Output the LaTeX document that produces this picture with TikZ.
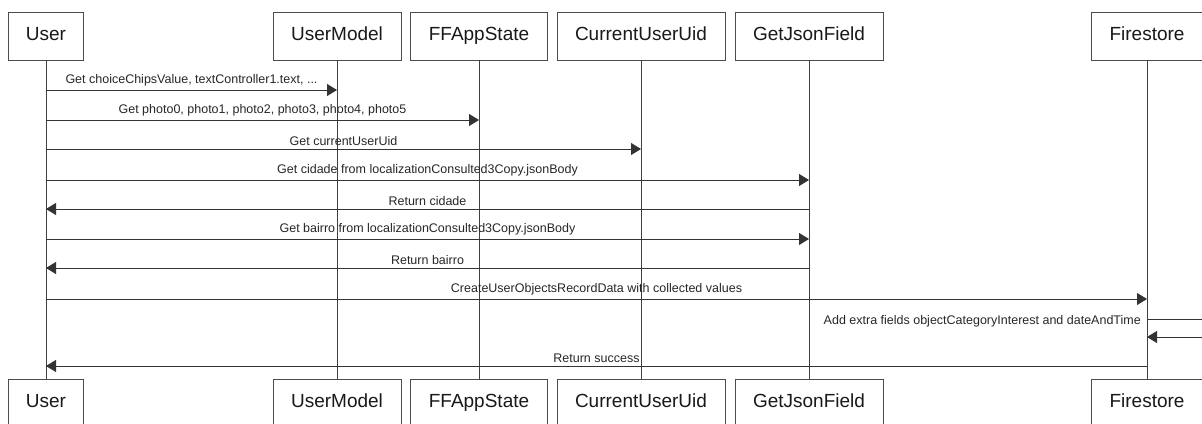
\documentclass[tikz,border=0pt]{standalone}
\usepackage{fontspec}
\setmainfont{Liberation Sans}
\usetikzlibrary{arrows.meta}
\begin{document}
\begin{tikzpicture}[x=1pt,y=-1pt,
  actor/.style={draw=black!70, fill=white, line width=0.8pt, minimum height=48pt, inner sep=0pt, text height=13.5pt, text depth=4pt, text=black!90, font=\fontsize{19}{22}\selectfont},
  life/.style={draw=black!75, line width=0.8pt},
  msg/.style={draw=black!80, line width=0.9pt, -{Triangle[length=10pt,width=12pt]}},
  lbl/.style={font=\fontsize{12.5}{14}\selectfont, text=black!85, inner sep=0pt}]
\useasboundingbox (0,0) rectangle (1202,423);
\clip (0,0) rectangle (1202,423);
% participants (top)
\node[actor, minimum width=75pt]  (uT)  at (46,36)   {User};
\node[actor, minimum width=128pt] (umT) at (337,36)  {UserModel};
\node[actor, minimum width=137pt] (ffT) at (479,36)  {FFAppState};
\node[actor, minimum width=168pt] (cuT) at (641,36)  {CurrentUserUid};
\node[actor, minimum width=148pt] (gjT) at (809,36)  {GetJsonField};
\node[actor, minimum width=112pt] (fsT) at (1147,36) {Firestore};
% participants (bottom)
\node[actor, minimum width=75pt]  (uB)  at (46,403)   {User};
\node[actor, minimum width=128pt] (umB) at (337,403)  {UserModel};
\node[actor, minimum width=137pt] (ffB) at (479,403)  {FFAppState};
\node[actor, minimum width=168pt] (cuB) at (641,403)  {CurrentUserUid};
\node[actor, minimum width=148pt] (gjB) at (809,403)  {GetJsonField};
\node[actor, minimum width=112pt] (fsB) at (1147,403) {Firestore};
% lifelines
\draw[life] (uT) -- (uB);
\draw[life] (umT) -- (umB);
\draw[life] (ffT) -- (ffB);
\draw[life] (cuT) -- (cuB);
\draw[life] (gjT) -- (gjB);
\draw[life] (fsT) -- (fsB);
% message rows
\coordinate (r1) at (0,90);
\coordinate (r2) at (0,120);
\coordinate (r3) at (0,149);
\coordinate (r4) at (0,180);
\coordinate (r5) at (0,209);
\coordinate (r6) at (0,239);
\coordinate (r7) at (0,268);
\coordinate (r8) at (0,299);
\coordinate (r9) at (0,319);
\coordinate (r9b) at (0,337);
\coordinate (r10) at (0,366);
\coordinate (loopR) at (1240,0);
\draw[msg] (uT |- r1) -- node[lbl, above=3pt] {Get choiceChipsValue, textController1.text, ...} (umT |- r1);
\draw[msg] (uT |- r2) -- node[lbl, above=3pt] {Get photo0, photo1, photo2, photo3, photo4, photo5} (ffT |- r2);
\draw[msg] (uT |- r3) -- node[lbl, above=3pt] {Get currentUserUid} (cuT |- r3);
\draw[msg] (uT |- r4) -- node[lbl, above=3pt] {Get cidade from localizationConsulted3Copy.jsonBody} (gjT |- r4);
\draw[msg] (gjT |- r5) -- node[lbl, above=3pt] {Return cidade} (uT |- r5);
\draw[msg] (uT |- r6) -- node[lbl, above=3pt] {Get bairro from localizationConsulted3Copy.jsonBody} (gjT |- r6);
\draw[msg] (gjT |- r7) -- node[lbl, above=3pt] {Return bairro} (uT |- r7);
\draw[msg] (uT |- r8) -- node[lbl, above=3pt] {CreateUserObjectsRecordData with collected values} (fsT |- r8);
\draw[msg] (fsT |- r9) -- (loopR |- r9) -- (loopR |- r9b) -- (fsT |- r9b);
\node[lbl, anchor=east] (selfl) at ([xshift=-6pt, yshift=-2pt]fsT |- r9) {Add extra fields objectCategoryInterest and dateAndTime};
\draw[msg] (fsT |- r10) -- node[lbl, above=3pt] {Return success} (uT |- r10);
\end{tikzpicture}
\end{document}
